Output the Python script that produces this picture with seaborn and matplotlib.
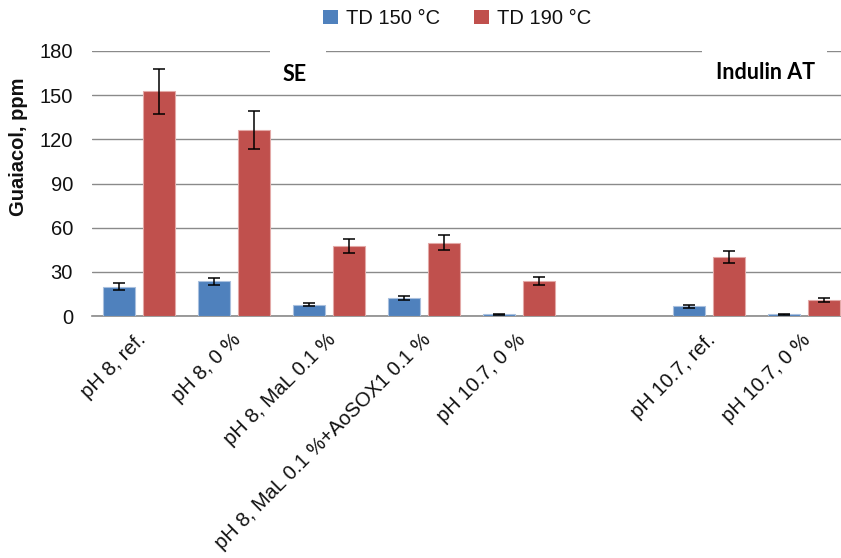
import numpy as np
import pandas as pd
import matplotlib
matplotlib.use("Agg")
import matplotlib.pyplot as plt
import matplotlib.transforms as mtransforms
from matplotlib.patches import Rectangle
import seaborn as sns

# ---- data -------------------------------------------------------------
sample_keys = [
    "SE: pH 8, ref.",
    "SE: pH 8, 0 %",
    "SE: pH 8, MaL 0.1 %",
    "SE: pH 8, MaL 0.1 %+AoSOX1 0.1 %",
    "SE: pH 10.7, 0 %",
    "Indulin AT: pH 10.7, ref.",
    "Indulin AT: pH 10.7, 0 %",
]
tick_labels = [
    "pH 8, ref.",
    "pH 8, 0 %",
    "pH 8, MaL 0.1 %",
    "pH 8, MaL 0.1 %+AoSOX1 0.1 %",
    "pH 10.7, 0 %",
    "",
    "pH 10.7, ref.",
    "pH 10.7, 0 %",
]
series = ["TD 150 °C", "TD 190 °C"]
td150 = [20.0, 23.5, 7.5, 12.2, 1.2, 6.5, 1.1]
td150_err = [2.2, 2.4, 1.0, 1.3, 0.3, 1.0, 0.3]
td190 = [152.6, 126.3, 47.5, 49.8, 23.8, 40.1, 10.9]
td190_err = [15.3, 12.8, 4.9, 5.1, 2.5, 4.1, 1.3]

# empty slot separating the two lignin groups
order = sample_keys[:5] + ["gap"] + sample_keys[5:]

df = pd.DataFrame({
    "sample": sample_keys * 2,
    "series": [series[0]] * len(sample_keys) + [series[1]] * len(sample_keys),
    "guaiacol": td150 + td190,
    "err": td150_err + td190_err,
})
err_lookup = {(s, k): e for s, k, e in zip(df["series"], df["sample"], df["err"])}

# ---- figure -----------------------------------------------------------
sns.set_theme(style="white")
plt.rcParams["font.family"] = ["Liberation Sans", "DejaVu Sans"]

W, H = 841, 558
fig = plt.figure(figsize=(W / 100, H / 100), dpi=100)
ax = fig.add_axes([91.5 / W, 1 - 316 / H, 759.5 / W, 265 / H])

blue = "#4F81BD"
red = "#C0504D"
sns.barplot(
    data=df, x="sample", y="guaiacol", hue="series",
    order=order, hue_order=series, palette=[blue, red], saturation=1,
    width=0.843, gap=0.2, errorbar=None, ax=ax, zorder=3,
    linewidth=0.8,
)
for cont, col in zip(ax.containers, ["#a9c0de", "#e3a9a7"]):
    for p in cont:
        p.set_edgecolor(col)

# error bars from the listed standard deviations
for cont, s in zip(ax.containers, series):
    for p in cont:
        xc = p.get_x() + p.get_width() / 2
        key = order[int(round(xc))]
        ax.errorbar(xc, p.get_height(), yerr=err_lookup[(s, key)],
                    fmt="none", ecolor="black", elinewidth=1.1,
                    capsize=4, capthick=1.1, zorder=4)

ax.set_ylim(0, 180)
ax.set_yticks(np.arange(0, 181, 30))
ax.set_xlim(-0.5, len(order) - 0.5)
ax.yaxis.grid(True, color="#8a8a8a", linewidth=1.0, zorder=0)
ax.set_axisbelow(True)
for side in ["left", "right", "top"]:
    ax.spines[side].set_visible(False)
ax.spines["bottom"].set_color("#8a8a8a")
ax.spines["bottom"].set_linewidth(1.2)

ax.tick_params(axis="y", length=0, pad=13.3, labelsize=14.5, labelcolor="#111111")
ax.tick_params(axis="x", length=0, pad=15, labelsize=14.5, labelcolor="#111111")
ax.set_xticks(range(len(order)))
ax.set_xticklabels(tick_labels, rotation=45, ha="right", va="center",
                   rotation_mode="anchor")
shift = mtransforms.ScaledTranslation(4 / 100, 0, fig.dpi_scale_trans)
for lbl in ax.get_xticklabels():
    lbl.set_transform(lbl.get_transform() + shift)

ax.set_xlabel("")
ax.set_ylabel("Guaiacol, ppm", fontsize=14.5, fontweight="bold", color="#111111")
ax.yaxis.set_label_coords(-0.084, 0.64)

# group captions on white text boxes
for x0, x1 in [(1.381, 1.971), (5.933, 7.25)]:
    ax.add_patch(Rectangle((x0, 170), x1 - x0, 15, facecolor="white",
                           edgecolor="none", zorder=2, clip_on=False))
ax.text(1.634, 163.7, "SE", ha="center", va="center", fontsize=15.5,
        fontweight="bold", color="black", family=["Lato", "DejaVu Sans"], zorder=5)
ax.text(6.596, 165.4, "Indulin AT", ha="center", va="center", fontsize=15.5,
        fontweight="bold", color="black", family=["Lato", "DejaVu Sans"], zorder=5)

sns.move_legend(
    ax, "upper center", bbox_to_anchor=(457 / W, 1 + 9 / H),
    bbox_transform=fig.transFigure, ncol=2, frameon=False, title=None,
    fontsize=14.5, handlelength=0.75, handleheight=0.75, handletextpad=0.4,
    columnspacing=1.7,
)
for h in ax.get_legend().legend_handles:
    h.set_edgecolor("none")
for t in ax.get_legend().get_texts():
    t.set_color("#111111")

fig.savefig("out.png", dpi=100)
